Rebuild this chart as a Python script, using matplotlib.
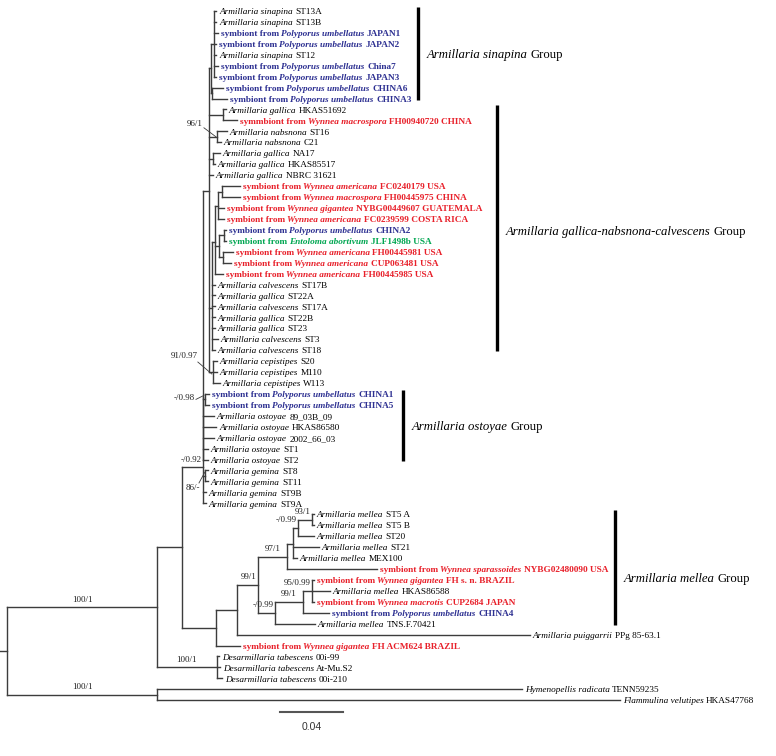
import matplotlib
matplotlib.use('Agg')
import matplotlib.pyplot as plt
from matplotlib.collections import LineCollection

plt.rcParams['font.family'] = ['Liberation Serif', 'DejaVu Serif']

# leaf labels, top to bottom; *...* is italic
labels = [
    "*Armillaria sinapina* ST13A",
    "*Armillaria sinapina* ST13B",
    "symbiont from *Polyporus umbellatus* JAPAN1",
    "symbiont from *Polyporus umbellatus* JAPAN2",
    "*Armillaria sinapina* ST12",
    "symbiont from *Polyporus umbellatus* China7",
    "symbiont from *Polyporus umbellatus* JAPAN3",
    "symbiont from *Polyporus umbellatus* CHINA6",
    "symbiont from *Polyporus umbellatus* CHINA3",
    "*Armillaria gallica* HKAS51692",
    "symmbiont from *Wynnea macrospora* FH00940720 CHINA",
    "*Armillaria nabsnona* ST16",
    "*Armillaria nabsnona* C21",
    "*Armillaria gallica* NA17",
    "*Armillaria gallica* HKAS85517",
    "*Armillaria gallica* NBRC 31621",
    "symbiont from *Wynnea americana* FC0240179 USA",
    "symbiont from *Wynnea macrospora* FH00445975 CHINA",
    "symbiont from *Wynnea gigantea* NYBG00449607 GUATEMALA",
    "symbiont from *Wynnea americana* FC0239599 COSTA RICA",
    "symbiont from *Polyporus umbellatus* CHINA2",
    "symbiont from *Entoloma abortivum* JLF1498b USA",
    "symbiont from *Wynnea americana* FH00445981 USA",
    "symbiont from *Wynnea americana* CUP063481 USA",
    "symbiont from *Wynnea americana* FH00445985 USA",
    "*Armillaria calvescens* ST17B",
    "*Armillaria gallica* ST22A",
    "*Armillaria calvescens* ST17A",
    "*Armillaria gallica* ST22B",
    "*Armillaria gallica* ST23",
    "*Armillaria calvescens* ST3",
    "*Armillaria calvescens* ST18",
    "*Armillaria cepistipes* S20",
    "*Armillaria cepistipes* M110",
    "*Armillaria cepistipes* W113",
    "symbiont from *Polyporus umbellatus* CHINA1",
    "symbiont from *Polyporus umbellatus* CHINA5",
    "*Armillaria ostoyae* 89_03B_09",
    "*Armillaria ostoyae* HKAS86580",
    "*Armillaria ostoyae* 2002_66_03",
    "*Armillaria ostoyae* ST1",
    "*Armillaria ostoyae* ST2",
    "*Armillaria gemina* ST8",
    "*Armillaria gemina* ST11",
    "*Armillaria gemina* ST9B",
    "*Armillaria gemina* ST9A",
    "*Armillaria mellea* ST5 A",
    "*Armillaria mellea* ST5 B",
    "*Armillaria mellea* ST20",
    "*Armillaria mellea* ST21",
    "*Armillaria mellea* MEX100",
    "symbiont from *Wynnea sparassoides* NYBG02480090 USA",
    "symbiont from *Wynnea gigantea* FH s. n. BRAZIL",
    "*Armillaria mellea* HKAS86588",
    "symbiont from *Wynnea macrotis* CUP2684 JAPAN",
    "symbiont from *Polyporus umbellatus* CHINA4",
    "*Armillaria mellea* TNS.F.70421",
    "*Armillaria puiggarrii* PPg 85-63.1",
    "symbiont from *Wynnea gigantea* FH ACM624 BRAZIL",
    "*Desarmillaria tabescens* 00i-99",
    "*Desarmillaria tabescens* At-Mu.S2",
    "*Desarmillaria tabescens* 00i-210",
    "*Hymenopellis radicata* TENN59235",
    "*Flammulina velutipes* HKAS47768",
]

# tree (newick, leaves are indices into labels, support as node labels)
sinapina = ("((0:0.0013,1:0.0013,2:0.0025,3:0.0013,4:0.0013,5:0.0025,6:0.0013):0.0019,"
            "(7:0.0070,8:0.0095):0.0006):0.0013")
gallica = ("(9:0.0019,10:0.0089):0.0089,(11:0.0063,12:0.0025)96/1:0.0051,"
           "(13:0.0044,14:0.0013):0.0025,15:0.0025")
wynnea = ("(((16:0.0114,17:0.0114):0.0025,18:0.0038,19:0.0038):0.0019,"
          "((20:0.0013,21:0.0013):0.0032,(22:0.0063,23:0.0051):0.0025):0.0025,24:0.0051):0.0019")
calvescens = ("(" + wynnea + ",25:0.0019,26:0.0019,27:0.0019,28:0.0019,29:0.0019,"
              "30:0.0038,31:0.0019):0.0019")
cepistipes = "(32:0.0025,33:0.0025,34:0.0044)91/0.97:0.0025"
ostoyae = ("((" + sinapina + "," + gallica + "," + calvescens + "," + cepistipes + "):0.0038,"
           "(35:0.0025,36:0.0025)-/0.98:0.0013,37:0.0070,38:0.0083,39:0.0070,40:0.0032,41:0.0032):0.0,"
           "(42:0.0019,43:0.0019)86/-:0.0013,44:0.0019,45:0.0019")
mellea_a = ("(((46:0.0013,47:0.0013)93/1:0.0089,48:0.0102)-/0.99:0.0032,"
            "49:0.0165,50:0.0025):0.0038,51:0.0571")
mellea_b = ("((52:0.0013,53:0.0114,54:0.0013)95/0.99:0.0057,55:0.0165)99/1:0.0178,56:0.0254")
mellea = ("((((" + mellea_a + ")97/1:0.0184,(" + mellea_b + ")-/0.99:0.0108)99/1:0.0133,"
          "57:0.1860):0.0133,58:0.0152):0.0216")
desarm = "(59:0.0013,60:0.0019,61:0.0032)100/1:0.0381"
outgroup = "(62:0.2317,63:0.2940)100/1:0.0952"
tree = ("((((" + ostoyae + ")-/0.92:0.0133," + mellea + "):0.0159," + desarm + ")100/1:0.0952,"
        + outgroup + "):0.0044")

groups = ["Armillaria sinapina", "Armillaria gallica-nabsnona-calvescens",
          "Armillaria ostoyae", "Armillaria mellea"]
group_first = [0, 9, 35, 46]
group_last = [8, 31, 41, 56]

scale_len = 0.04

# ---- styles
PX = 1575.0      # pixels per substitution unit
PY = 10.94       # pixels per leaf row
line_col = '#3c3c3c'
red = '#e8202a'
blue = '#2e3192'
green = '#00a651'
bar_x_px = [418, 497, 403, 615]
label_dy_px = [0, 2, 0, 10]
# offsets (px) for support labels drawn with a leader line:
# text right/center, leader start, leader end (all relative to node)
leaders = {
    '96/1': ((-14, -13), (-13, -9), (-1, 0)),
    '91/0.97': ((-15, -16), (-15, -10), (-1, 2)),
    '-/0.98': ((-10, -1), (-9, 0), (-1, -4)),
    '86/-': ((-5, 12), (-6, 7), (0, -4)),
}


def parse(s):
    pos = 0

    def node():
        nonlocal pos
        n = {'children': [], 'label': '', 'bl': 0.0, 'leaf': None}
        if s[pos] == '(':
            pos += 1
            while True:
                n['children'].append(node())
                if s[pos] == ',':
                    pos += 1
                else:
                    break
            pos += 1
        start = pos
        while pos < len(s) and s[pos] not in ':,)':
            pos += 1
        name = s[start:pos]
        if n['children']:
            n['label'] = name
        else:
            n['leaf'] = int(name)
        if pos < len(s) and s[pos] == ':':
            pos += 1
            start = pos
            while pos < len(s) and s[pos] not in ',)':
                pos += 1
            n['bl'] = float(s[start:pos])
        return n
    return node()


def layout(n, px):
    n['px'] = px
    n['x'] = px + n['bl']
    if n['leaf'] is not None:
        n['y'] = n['leaf']
    else:
        for c in n['children']:
            layout(c, n['x'])
        n['y'] = sum(c['y'] for c in n['children']) / len(n['children'])


root = parse(tree)
layout(root, -root['bl'])

fig = plt.figure(figsize=(7.76, 7.56), dpi=100)
ax = fig.add_axes([0, 0, 1, 1])
ax.set_xlim(-7 / PX, (776 - 7) / PX)
ax.set_ylim((756 - 11) / PY, -11 / PY)
ax.axis('off')
renderer = fig.canvas.get_renderer()
inv = ax.transData.inverted()

segs = []
nodes = []


def collect(n):
    nodes.append(n)
    if n['x'] > n['px']:
        segs.append([(n['px'], n['y']), (n['x'], n['y'])])
    if n['children']:
        ys = [c['y'] for c in n['children']]
        segs.append([(n['x'], min(ys)), (n['x'], max(ys))])
        for c in n['children']:
            collect(c)


collect(root)
ax.add_collection(LineCollection(segs, colors=line_col, linewidths=1.0, capstyle='projecting'))


def rich_text(x, y, s, size, color, bold, gap=0.25):
    cur = x
    for i, p in enumerate(s.split('*')):
        p = p.strip()
        if not p:
            continue
        t = ax.text(cur, y, p, fontsize=size, color=color,
                    style='italic' if i % 2 else 'normal',
                    weight='bold' if bold else 'normal', va='baseline', ha='left')
        bb = t.get_window_extent(renderer)
        cur = inv.transform((bb.x1 + size * gap * 100 / 72, 0))[0]


# leaf labels
for n in nodes:
    if n['leaf'] is None:
        continue
    s = labels[n['leaf']]
    bold = s.startswith('sym')
    color = 'black'
    if 'Polyporus' in s:
        color = blue
    elif 'Wynnea' in s:
        color = red
    elif 'Entoloma' in s:
        color = green
    rich_text(n['x'] + 3 / PX, n['y'] + 3.2 / PY, s, 6.7, color, bold)

# support values
for n in nodes:
    lab = n['label']
    if not lab:
        continue
    if lab in leaders:
        (tx, ty), (sx, sy), (ex, ey) = leaders[lab]
        ax.text(n['x'] + tx / PX, n['y'] + ty / PY, lab, fontsize=6.5,
                ha='right', va='center', color='#222222')
        ax.plot([n['x'] + sx / PX, n['x'] + ex / PX], [n['y'] + sy / PY, n['y'] + ey / PY],
                color=line_col, lw=0.6)
        continue
    blen = (n['x'] - n['px']) * PX
    if blen > 25:
        ax.text((n['x'] + n['px']) / 2, n['y'] - 3.5 / PY, lab, fontsize=6.5,
                ha='center', va='bottom', color='#222222')
    else:
        ax.text(n['x'] - 1 / PX, n['y'] - 3.5 / PY, lab, fontsize=6.5,
                ha='right', va='bottom', color='#222222')

# group bars and names
for name, a, b, bx, dy in zip(groups, group_first, group_last, bar_x_px, label_dy_px):
    x = (bx - 7) / PX
    ax.plot([x, x], [a - 0.4, b + 0.1], color='black', lw=2.4, solid_capstyle='butt')
    rich_text(x + 9 / PX, (a + b) / 2 + (3.5 + dy) / PY, '*' + name + '* Group', 9.2, 'black',
              False, gap=0.18)

# scale bar
sx = (280 - 7) / PX
sy = (712 - 11) / PY
ax.plot([sx, sx + scale_len], [sy, sy], color='#555555', lw=1.5)
ax.text(sx + scale_len / 2, sy + 1.4, '%.2f' % scale_len, fontsize=7.5,
        family='Liberation Sans', ha='center', va='center', color='#333333')

fig.savefig('out.png', dpi=100)
